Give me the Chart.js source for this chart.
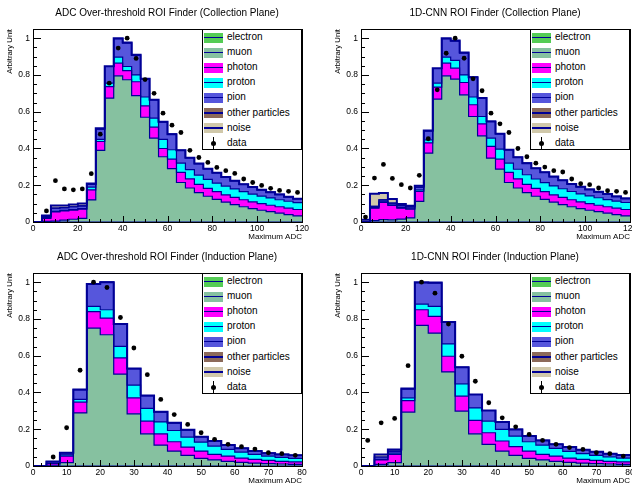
<!DOCTYPE html>
<html>
  <head>
    <title>ROI Finder comparison</title>
    <script src="https://cdn.jsdelivr.net/npm/chart.js"></script>
    <style>
      body { margin: 0; background: #fff; width: 632px; height: 485px; overflow: hidden; position: relative;
             font-family: "Liberation Sans", Arial, Helvetica, sans-serif; }
      .panel { position: absolute; width: 334px; height: 244px; }
      .panel canvas { position: absolute; left: 0; top: 0; }
      .legend { position: absolute; left: 202px; top: 29px; width: 98px; height: 119px; border: 1px solid #000;
                background: #fff; font-size: 10px; color: #000; }
      .row { position: absolute; left: 0; height: 15px; width: 98px; }
      .sw { position: absolute; left: 1px; top: 2.5px; width: 19px; height: 10px; }
      .sw i { position: absolute; left: 0; right: 0; top: 4px; height: 1.5px; background: #000096; }
      .row span { position: absolute; left: 24px; top: 1px; line-height: 12px; white-space: nowrap; }
      .dot { position: absolute; left: 8px; top: 5px; width: 5px; height: 5px; border-radius: 50%; background: #000; }
      .bar { position: absolute; left: 10px; top: 1px; width: 1px; height: 13px; background: #000; }
    </style>
  </head>
  <body>
    <div class="panel" id="p0" style="left:0;top:0"><canvas id="c0" width="334" height="244"></canvas></div>
    <div class="panel" id="p1" style="left:328px;top:0"><canvas id="c1" width="334" height="244"></canvas></div>
    <div class="panel" id="p2" style="left:0;top:244px"><canvas id="c2" width="334" height="244"></canvas></div>
    <div class="panel" id="p3" style="left:328px;top:244px"><canvas id="c3" width="334" height="244"></canvas></div>

    <script>
        // bin edges (4 ADC wide)
        const collEdges = [0,4,8,12,16,20,24,28,32,36,40,44,48,52,56,60,64,68,72,76,80,84,88,92,96,100,104,108,112,116,120];
        const indEdges = [0,4,8,12,16,20,24,28,32,36,40,44,48,52,56,60,64,68,72,76,80];

        const species = ['electron', 'muon', 'photon', 'proton', 'pion', 'other particles', 'noise'];
        const fillColors = ['#55cc55', '#86c1a0', '#ff00ff', '#00ffff', '#5656dc', '#8c6a5a', '#d0c8aa'];

        // ADC over-threshold, collection plane
        const adcCollElectron = [0,0,0,0,0,0,0,0,0,0,0,0,0,0,0,0,0,0,0,0,0,0,0,0,0,0,0,0,0,0];
        const adcCollMuon = [0,.003,.005,.01,.015,.02,.12,.39,.674,.795,.774,.688,.57,.456,.355,.29,.215,.185,.16,.14,.123,.108,.095,.083,.073,.064,.056,.048,.04,.033];
        const adcCollPhoton = [0,.017,.05,.05,.05,.05,.055,.048,.063,.069,.05,.075,.062,.06,.045,.052,.055,.05,.045,.043,.042,.04,.039,.038,.037,.036,.035,.035,.035,.035];
        const adcCollProton = [0,.004,.003,.003,.003,.003,.015,.012,.018,.033,.022,.037,.048,.049,.049,.051,.05,.05,.05,.049,.047,.047,.046,.044,.042,.041,.04,.038,.038,.037];
        const adcCollPion = [0,.006,.017,.015,.015,.015,.015,.055,.091,.101,.129,.108,.1,.1,.096,.085,.07,.065,.063,.058,.056,.05,.045,.04,.038,.034,.031,.029,.024,.022];
        const adcCollOther = [0,0,0,0,0,0,0,0,0,0,0,0,0,0,0,0,0,0,0,0,0,0,0,0,0,0,0,0,0,0];
        const adcCollNoise = [0,.005,.015,.012,.012,.012,.005,.005,.002,.002,.002,.002,0,0,0,0,0,0,0,0,0,0,0,0,0,0,0,0,0,0];
        const adcCollData = [null,.06,.225,.18,.175,.18,.263,.478,.755,.946,1,.89,.775,.7,.592,.527,.487,.39,.351,.324,.297,.279,.264,.234,.215,.199,.183,.172,.167,.161];

        // 1D-CNN, collection plane
        const cnnCollElectron = [0,0,0,0,0,0,0,0,0,0,0,0,0,0,0,0,0,0,0,0,0,0,0,0,0,0,0,0,0,0];
        const cnnCollMuon = [0,.007,.013,.012,.016,.022,.112,.375,.668,.795,.777,.692,.574,.469,.348,.288,.215,.185,.16,.14,.123,.108,.095,.083,.073,.064,.056,.048,.04,.033];
        const cnnCollPhoton = [0,.069,.094,.078,.06,.048,.055,.055,.066,.069,.06,.067,.064,.065,.063,.054,.055,.05,.045,.043,.042,.04,.039,.038,.037,.036,.035,.035,.035,.035];
        const cnnCollProton = [0,.002,.002,.002,.002,.002,.008,.017,.021,.033,.042,.041,.042,.04,.045,.055,.05,.052,.052,.051,.049,.048,.047,.045,.043,.042,.041,.039,.039,.038];
        const cnnCollPion = [0,.007,.011,.011,.011,.01,.015,.048,.08,.101,.106,.12,.108,.1,.091,.083,.073,.065,.063,.058,.056,.051,.046,.041,.039,.035,.032,.03,.025,.022];
        const cnnCollOther = [0,0,0,0,0,0,0,0,0,0,0,0,0,0,0,0,0,0,0,0,0,0,0,0,0,0,0,0,0,0];
        const cnnCollNoise = [.012,.069,.038,.022,.009,.007,.007,.003,.002,.002,.002,.002,0,0,0,0,0,0,0,0,0,0,0,0,0,0,0,0,0,0];
        const cnnCollData = [.027,.239,.313,.237,.203,.185,.254,.453,.719,.918,1,.891,.779,.714,.592,.534,.487,.4,.355,.32,.299,.279,.272,.234,.208,.203,.185,.17,.167,.161];

        // ADC over-threshold, induction plane
        const adcIndElectron = [0,0,0,0,0,0,0,0,0,0,0,0,0,0,0,0,0,0,0,0];
        const adcIndMuon = [0,.004,.018,.289,.75,.714,.5,.284,.175,.114,.081,.058,.042,.033,.025,.02,.016,.013,.011,.009];
        const adcIndPhoton = [0,.009,.036,.058,.09,.091,.088,.087,.069,.061,.051,.045,.039,.03,.029,.023,.02,.018,.014,.013];
        const adcIndProton = [0,.002,.006,.015,.028,.045,.063,.069,.069,.065,.061,.054,.049,.045,.036,.033,.027,.023,.022,.02];
        const adcIndPion = [0,.009,.012,.054,.122,.15,.121,.09,.07,.055,.042,.04,.029,.028,.024,.02,.018,.016,.016,.016];
        const adcIndOther = [0,0,0,0,0,0,0,0,0,0,0,0,0,0,0,0,0,0,0,0];
        const adcIndNoise = [0,0,0,0,0,0,0,0,0,0,0,0,0,0,0,0,0,0,0,0];
        const adcIndData = [null,.049,.208,.521,1,.971,.808,.642,.497,.362,.28,.226,.181,.145,.118,.105,.092,.072,.067,.058];

        // 1D-CNN, induction plane
        const cnnIndElectron = [0,0,0,0,0,0,0,0,0,0,0,0,0,0,0,0,0,0,0,0];
        const cnnIndMuon = [0,.009,.018,.293,.765,.723,.512,.298,.175,.118,.081,.058,.042,.033,.025,.02,.016,.013,.011,.009];
        const cnnIndPhoton = [0,.024,.045,.063,.085,.091,.085,.082,.073,.063,.055,.047,.039,.03,.029,.023,.02,.018,.014,.013];
        const cnnIndProton = [0,.003,.007,.015,.031,.054,.067,.067,.068,.063,.063,.058,.051,.051,.042,.037,.031,.027,.025,.021];
        const cnnIndPion = [0,.013,.011,.048,.117,.128,.119,.09,.073,.058,.041,.036,.031,.025,.022,.023,.022,.02,.017,.017];
        const cnnIndOther = [0,0,0,0,0,0,0,0,0,0,0,0,0,0,0,0,0,0,0,0];
        const cnnIndNoise = [0,.014,.009,.002,.002,.002,0,0,0,0,0,0,0,0,0,0,0,0,0,0];
        const cnnIndData = [.139,.235,.259,.546,1,.94,.772,.597,.461,.344,.262,.213,.172,.139,.118,.1,.09,.072,.067,.054];

        const panels = [
          { title: 'ADC Over-threshold ROI Finder (Collection Plane)', edges: collEdges, xStep: 20,
            layers: [adcCollElectron, adcCollMuon, adcCollPhoton, adcCollProton, adcCollPion, adcCollOther, adcCollNoise], data: adcCollData },
          { title: '1D-CNN ROI Finder (Collection Plane)', edges: collEdges, xStep: 20,
            layers: [cnnCollElectron, cnnCollMuon, cnnCollPhoton, cnnCollProton, cnnCollPion, cnnCollOther, cnnCollNoise], data: cnnCollData },
          { title: 'ADC Over-threshold ROI Finder (Induction Plane)', edges: indEdges, xStep: 10,
            layers: [adcIndElectron, adcIndMuon, adcIndPhoton, adcIndProton, adcIndPion, adcIndOther, adcIndNoise], data: adcIndData },
          { title: '1D-CNN ROI Finder (Induction Plane)', edges: indEdges, xStep: 10,
            layers: [cnnIndElectron, cnnIndMuon, cnnIndPhoton, cnnIndProton, cnnIndPion, cnnIndOther, cnnIndNoise], data: cnnIndData }
        ];

        const navy = '#000096';
        Chart.defaults.font.family = '"Liberation Sans", Arial, Helvetica, sans-serif';
        Chart.defaults.color = '#000';

        // ROOT style frame with ticks pointing inward
        const rootFrame = {
          id: 'rootFrame',
          afterDatasetsDraw(chart, args, opts) {
            const {ctx, chartArea: a, scales: {x, y}} = chart;
            ctx.save();
            ctx.strokeStyle = '#000';
            ctx.lineWidth = 1;
            ctx.beginPath();
            for (let v = 0; v <= x.max + 1e-9; v += opts.xStep / 4) {
              const px = Math.round(x.getPixelForValue(v)) + 0.5;
              const major = Math.abs(v / opts.xStep - Math.round(v / opts.xStep)) < 1e-6;
              ctx.moveTo(px, a.bottom);
              ctx.lineTo(px, a.bottom - (major ? 6 : 3));
            }
            for (let v = 0; v <= y.max + 1e-9; v += 0.05) {
              const py = Math.round(y.getPixelForValue(v)) + 0.5;
              const major = Math.abs(v / 0.2 - Math.round(v / 0.2)) < 1e-6;
              ctx.moveTo(a.left, py);
              ctx.lineTo(a.left + (major ? 8 : 4), py);
            }
            ctx.stroke();
            ctx.strokeRect(Math.round(a.left) + 0.5, Math.round(a.top) + 0.5,
                           Math.round(a.right - a.left), Math.round(a.bottom - a.top));
            ctx.restore();
          }
        };

        function buildLegend(panelEl) {
          const box = document.createElement('div');
          box.className = 'legend';
          species.forEach((name, k) => {
            const row = document.createElement('div');
            row.className = 'row';
            row.style.top = (k * 15.1) + 'px';
            row.innerHTML = '<div class="sw" style="background:' + fillColors[k] + '"><i></i></div><span>' + name + '</span>';
            box.appendChild(row);
          });
          const row = document.createElement('div');
          row.className = 'row';
          row.style.top = (7 * 15.1) + 'px';
          row.innerHTML = '<div class="bar"></div><div class="dot"></div><span>data</span>';
          box.appendChild(row);
          panelEl.appendChild(box);
        }

        panels.forEach((p, idx) => {
          const nb = p.edges.length - 1;
          const centers = p.edges.slice(0, nb).map((e, i) => (e + p.edges[i + 1]) / 2);
          const running = new Array(nb).fill(0);
          const datasets = [{
            label: 'data',
            data: centers.map((c, i) => ({x: c, y: p.data[i]})).filter(d => d.y !== null),
            showLine: false,
            pointRadius: 2.4,
            pointBackgroundColor: '#000',
            pointBorderWidth: 0,
            fill: false
          }];
          p.layers.forEach((vals, k) => {
            vals.forEach((v, i) => { running[i] += v; });
            const cum = running.slice();
            datasets.push({
              label: species[k],
              data: p.edges.map((e, i) => ({x: e, y: cum[Math.min(i, nb - 1)]})),
              stepped: 'before',
              pointRadius: 0,
              borderColor: navy,
              borderWidth: k === p.layers.length - 1 ? 2 : 1.2,
              backgroundColor: fillColors[k],
              fill: k === 0 ? 'origin' : k
            });
          });

          new Chart(document.getElementById('c' + idx), {
            type: 'line',
            data: { datasets },
            options: {
              responsive: false,
              animation: false,
              events: [],
              layout: { padding: 0 },
              plugins: {
                legend: { display: false },
                tooltip: { enabled: false },
                filler: { drawTime: 'beforeDatasetsDraw' },
                title: { display: true, text: p.title, font: { size: 10, weight: 'normal' },
                         padding: { top: 7, bottom: 10 } },
                rootFrame: { xStep: p.xStep }
              },
              scales: {
                x: {
                  type: 'linear', min: 0, max: p.edges[nb],
                  ticks: { stepSize: p.xStep, font: { size: 8.5 }, padding: 2, maxRotation: 0, autoSkip: false, includeBounds: false },
                  grid: { display: false, drawTicks: false }, border: { display: false },
                  title: { display: true, text: 'Maximum ADC', align: 'end', font: { size: 8 }, padding: { top: 0, bottom: 2 } },
                  afterFit(s) { s.height = 22; }
                },
                y: {
                  min: 0, max: 1.05,
                  ticks: { stepSize: 0.2, font: { size: 8.5 }, padding: 3, includeBounds: false,
                           callback: v => String(+v.toFixed(2)) },
                  grid: { display: false, drawTicks: false }, border: { display: false },
                  title: { display: true, text: 'Arbitrary Unit', align: 'end', font: { size: 7.7 }, padding: { top: 5, bottom: 0 } },
                  afterFit(s) { s.width = 33; }
                },
                yRight: {
                  position: 'right', display: true,
                  ticks: { display: false }, grid: { display: false, drawTicks: false }, border: { display: false },
                  afterFit(s) { s.width = 32; }
                }
              }
            },
            plugins: [rootFrame]
          });
          buildLegend(document.getElementById('p' + idx));
        });
    </script>
  </body>
</html>
